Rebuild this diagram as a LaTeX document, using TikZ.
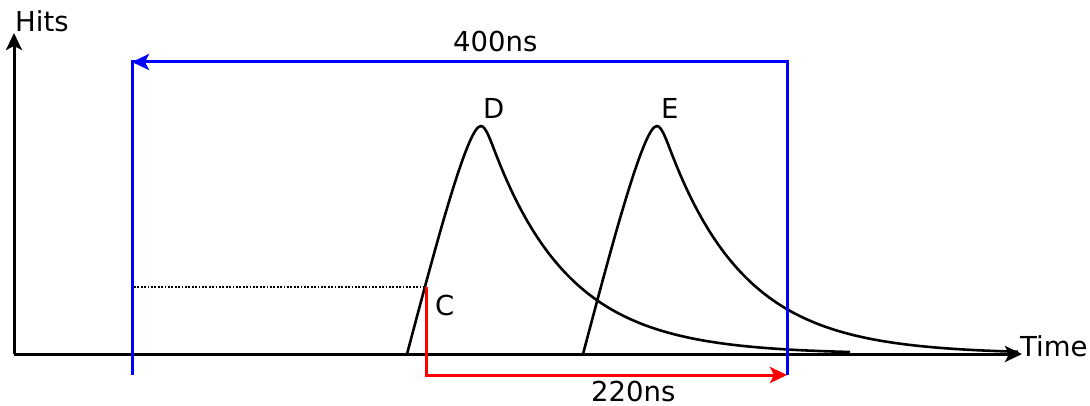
\documentclass[tikz,border=0pt]{standalone}
\usepackage{fontspec}
\setmainfont{DejaVu Sans}
\usetikzlibrary{arrows.meta}
\begin{document}
\begin{tikzpicture}[x=1pt,y=-1pt,
  lbl/.style={inner sep=0pt, anchor=base west, font=\fontsize{27.5}{31}\selectfont},
  tipstyle/.style={-{Stealth[length=17pt,width=16pt,inset=4pt]}},
  axisline/.style={line width=3pt, black, tipstyle},
  pulse/.style={line width=2.6pt, black, line join=round},
  bluebox/.style={line width=3pt, blue, line join=miter},
  redbox/.style={line width=3pt, red, line join=miter},
  guide/.style={line width=1.9pt, black, dash pattern=on 1.7pt off 1.7pt}]
\useasboundingbox (0,0) rectangle (1090,406);
% coordinates
\coordinate (O) at (14,354);
\coordinate (Ytip) at (14,33);
\coordinate (Xtip) at (1022,354);
\coordinate (BL) at (132,375);
\coordinate (BLt) at (132,62);
\coordinate (BRt) at (787,62);
\coordinate (BR) at (787,375);
\coordinate (C) at (426,287);
\coordinate (Cb) at (426,375);
\coordinate (Rend) at (787,375);
\coordinate (Dl) at (134,287);
% axes
\draw[axisline] (O) -- (Ytip);
\draw[axisline] (O) -- (Xtip);
% pulses
\draw[pulse] (407,354) .. controls (430,268) and (467,124) .. (481,126)
  .. controls (486,126) and (491,142) .. (497,157)
  -- plot[domain=0:353, samples=140] ({497+\x},{354-197*exp(-\x/77)});
\draw[pulse] (583,354) .. controls (606,268) and (643,124) .. (657,126)
  .. controls (662,126) and (667,142) .. (673,157)
  -- plot[domain=0:345, samples=140] ({673+\x},{354-197*exp(-\x/77)});
% dotted level
\draw[guide] (Dl) -- (C);
% blue window
\draw[bluebox] (BL) -- (BLt) -- (BRt) -- (BR);
\draw[bluebox, tipstyle] (BRt) -- (BLt);
% red interval
\draw[redbox, tipstyle] (C) -- (Cb) -- (Rend);
% labels
\node[lbl] (hits) at (15,32) {Hits};
\node[lbl] (time) at (1020,356) {Time};
\node[lbl] (t400) at (453,52) {400ns};
\node[lbl] (t220) at (591,401) {220ns};
\node[lbl] (lD) at (483,119) {D};
\node[lbl] (lE) at (661,119) {E};
\node[lbl] (lC) at (435,316) {C};
\end{tikzpicture}
\end{document}
